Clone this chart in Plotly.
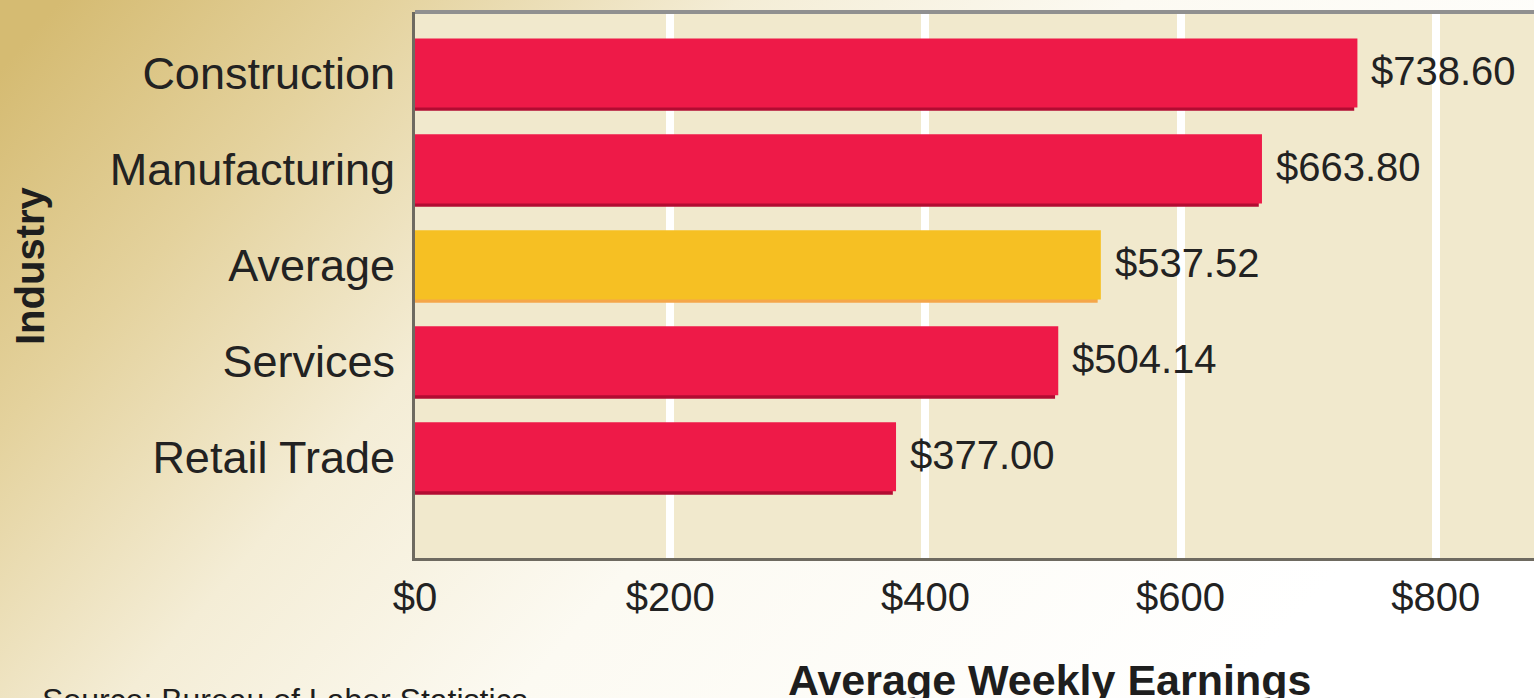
import base64
import plotly.graph_objects as go

# ---- data ----
industries = ["Construction", "Manufacturing", "Average", "Services", "Retail Trade"]
earnings = [738.60, 663.80, 537.52, 504.14, 377.00]
bar_colors = ["#ee1a48", "#ee1a48", "#f6c023", "#ee1a48", "#ee1a48"]
shadow_colors = ["#b20c32", "#b20c32", "#f5a64a", "#b20c32", "#b20c32"]
tick_vals = [0, 200, 400, 600, 800]
tick_text = ["$0", "$200", "$400", "$600", "$800"]
value_labels = ["$%.2f" % v for v in earnings]

W, H = 1534, 698
ML, MR, MT, MB = 415, 0, 12, 140

fig = go.Figure()

# shadow bars (drawn first, slightly lower and left)
fig.add_trace(go.Bar(
    y=industries, x=earnings, orientation="h",
    base=-2.5, width=0.72, offset=-0.33,
    marker=dict(color=shadow_colors, line=dict(width=0)),
    hoverinfo="skip", showlegend=False,
))
# main bars
fig.add_trace(go.Bar(
    y=industries, x=earnings, orientation="h",
    width=0.72, offset=-0.365,
    marker=dict(color=bar_colors, line=dict(width=0)),
    showlegend=False,
))

annotations = []
for ind, v, lab in zip(industries, earnings, value_labels):
    annotations.append(dict(
        x=v, y=ind, xref="x", yref="y", text=lab, showarrow=False,
        xanchor="left", yanchor="middle", xshift=12, yshift=2,
        font=dict(family="Liberation Sans, Arial, sans-serif", size=40, color="#222222"),
    ))

pw = W - ML - MR
ph = H - MT - MB

# y-axis title
annotations.append(dict(
    x=-385 / pw, y=(558 - 266) / ph, xref="paper", yref="paper",
    text="<b>Industry</b>", showarrow=False, textangle=-90,
    xanchor="center", yanchor="middle",
    font=dict(family="Liberation Sans, Arial, sans-serif", size=40, color="#1e1e1e"),
))
# x-axis title
annotations.append(dict(
    x=(1049 - ML) / pw, y=(558 - 654) / ph, xref="paper", yref="paper",
    text="<b>Average Weekly Earnings</b>", showarrow=False,
    xanchor="center", yanchor="top",
    font=dict(family="Liberation Sans, Arial, sans-serif", size=43, color="#1e1e1e"),
))
# source note
annotations.append(dict(
    x=(40 - ML) / pw, y=(558 - 680) / ph, xref="paper", yref="paper",
    text="Source: Bureau of Labor Statistics", showarrow=False,
    xanchor="left", yanchor="top",
    font=dict(family="Liberation Sans, Arial, sans-serif", size=32, color="#1e1e1e"),
))

# gradient background via svg data uri
svg = f'''<svg xmlns="http://www.w3.org/2000/svg" width="{W}" height="{H}" viewBox="0 0 {W} {H}" preserveAspectRatio="none">
<defs>
<linearGradient id="g" x1="0" y1="0.1" x2="1" y2="0.5">
<stop offset="0" stop-color="#d5bb72"/>
<stop offset="0.18" stop-color="#e4d29d"/>
<stop offset="0.38" stop-color="#f4edd6"/>
<stop offset="0.6" stop-color="#fcfaf2"/>
<stop offset="1" stop-color="#ffffff"/>
</linearGradient>
</defs>
<rect width="{W}" height="{H}" fill="url(#g)"/>
</svg>'''
uri = "data:image/svg+xml;base64," + base64.b64encode(svg.encode()).decode()

fig.update_layout(
    width=W, height=H,
    margin=dict(l=ML, r=MR, t=MT, b=MB, pad=0),
    paper_bgcolor="#ffffff",
    plot_bgcolor="#f1e9cd",
    barmode="overlay",
    annotations=annotations,
    images=[dict(
        source=uri, xref="paper", yref="paper",
        x=-ML / pw, y=(ph + MT) / ph, sizex=W / pw, sizey=H / ph,
        xanchor="left", yanchor="top", sizing="stretch", layer="below",
    )],
    xaxis=dict(
        range=[0, 877], tickvals=tick_vals, ticktext=tick_text,
        showgrid=True, gridcolor="#ffffff", gridwidth=8,
        zeroline=False, showline=True, linecolor="#6e6a60", linewidth=3,
        mirror=False, ticks="", ticklabelstandoff=2,
        tickfont=dict(family="Liberation Sans, Arial, sans-serif", size=40, color="#222222"),
        fixedrange=True,
    ),
    yaxis=dict(
        categoryorder="array", categoryarray=industries,
        range=[5.05, -0.64],
        showgrid=False, zeroline=False, showline=True, linecolor="#6e6a60", linewidth=3,
        ticks="", ticklabelstandoff=8,
        tickfont=dict(family="Liberation Sans, Arial, sans-serif", size=45, color="#222222"),
        fixedrange=True,
    ),
    shapes=[
        dict(type="rect", xref="paper", yref="paper", x0=0, x1=1, y0=0, y1=1,
             fillcolor="#f1e9cd", line=dict(width=0), layer="below"),
        dict(type="line", xref="paper", yref="paper", x0=0, x1=1, y0=1, y1=1,
             line=dict(color="#909090", width=4), layer="above"),
    ],
)

fig.write_html(
    "out.html",
    config={"displayModeBar": False},
    post_script="document.body.style.margin='0';document.body.style.padding='0';",
)
